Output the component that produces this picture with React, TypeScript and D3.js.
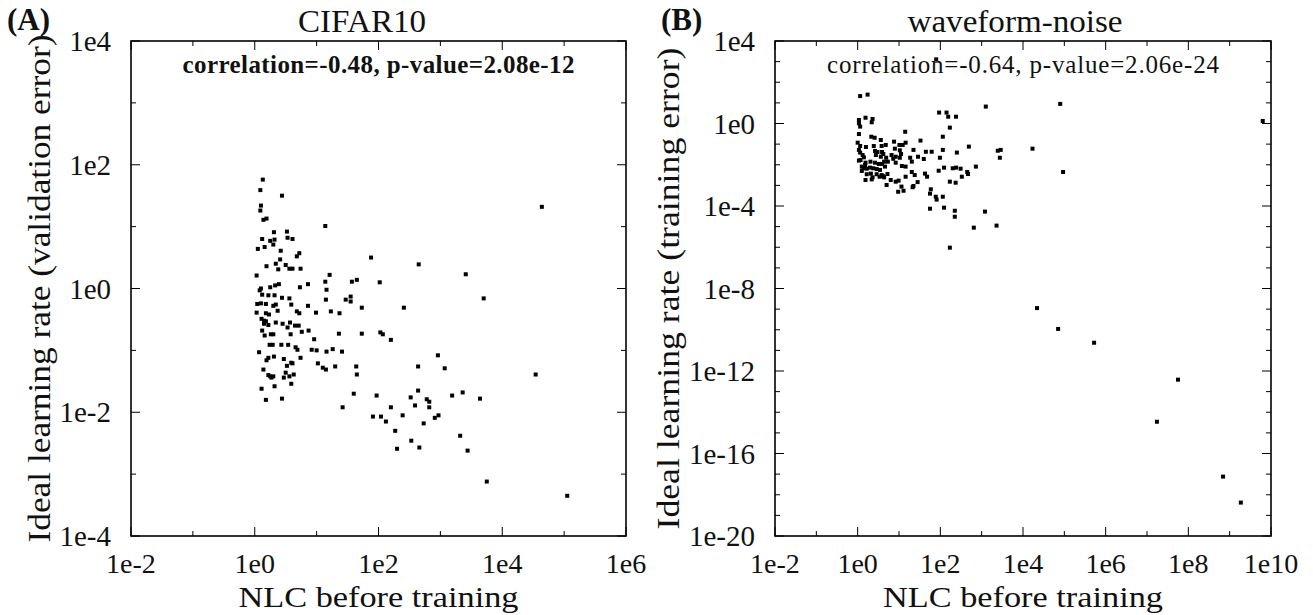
import React from "react";
import * as d3 from "d3";

// ---------- Panel A: CIFAR10 (log10 values) ----------
const cifarLogNLC = [
  0.13, 0.09, 0.44, 0.10, 0.09, 0.14, 0.19, 1.14, 0.31, 0.52,
  0.12, 0.25, 0.32, 0.53, 0.61, 0.05, 0.16, 0.30, 0.42, 0.72,
  0.68, 0.41, 0.34, 0.19, 0.50, 0.56, 0.61, 0.74, 0.38, 0.03,
  1.21, 1.14, 0.08, 0.25, 0.33, 0.39, 0.73, 0.86, 0.10, 1.16,
  0.12, 0.22, 0.32, 0.44, 0.56, 1.47, 1.15, 0.04, 0.10, 0.18,
  0.30, 0.34, 0.59, 0.86, 0.03, 0.18, 0.23, 0.37, 0.68, 0.72,
  0.99, 1.23, 1.37, 0.11, 0.15, 0.18, 0.15, 0.22, 0.34, 0.45,
  0.53, 0.57, 0.65, 0.71, 0.76, 0.87, 1.36, 0.12, 0.16, 0.26,
  0.30, 0.58, 0.96, 0.24, 0.29, 0.43, 0.54, 0.66, 0.69, 0.92,
  1.00, 1.16, 1.26, 1.41, 0.07, 0.22, 0.19, 0.31, 0.47, 0.74,
  0.59, 0.61, 0.52, 1.02, 1.10, 1.15, 1.30, 0.14, 0.22, 0.25,
  0.27, 0.30, 0.50, 0.47, 0.56, 0.63, 0.11, 0.32, 0.59, 0.18,
  0.44, 1.42,
  4.64, 1.88, 2.65, 3.41, 1.65, 1.57, 2.02, 1.55, 1.55, 3.70,
  1.73, 2.41, 1.73, 2.03, 2.07, 2.20, 2.96, 1.64, 2.64, 3.07,
  4.54, 1.65,
  1.60, 1.97, 2.64, 2.52, 2.78, 2.82, 3.19, 3.36, 3.64, 2.20,
  2.59, 2.82, 1.91, 2.04, 2.12, 2.39, 2.91, 2.97, 2.73, 2.27,
  2.53, 3.32, 2.30, 2.66, 3.44, 3.75, 5.05,
];
const cifarLogLR = [
  1.76, 1.59, 1.50, 1.34, 1.26, 1.11, 1.13, 1.01, 0.91, 0.92,
  0.80, 0.77, 0.79, 0.82, 0.80, 0.64, 0.67, 0.71, 0.61, 0.57,
  0.52, 0.47, 0.40, 0.36, 0.38, 0.32, 0.32, 0.32, 0.31, 0.21,
  0.22, 0.11, -0.03, 0.02, 0.05, 0.07, 0.02, 0.07, 0.00, -0.02,
  -0.10, -0.11, -0.11, -0.15, -0.16, -0.18, -0.18, -0.25, -0.24, -0.25,
  -0.28, -0.26, -0.26, -0.28, -0.39, -0.40, -0.42, -0.36, -0.37, -0.40,
  -0.39, -0.37, -0.40, -0.49, -0.52, -0.53, -0.57, -0.59, -0.55, -0.57,
  -0.63, -0.55, -0.60, -0.60, -0.70, -0.68, -0.73, -0.68, -0.76, -0.74,
  -0.74, -0.74, -0.82, -0.91, -0.91, -0.91, -0.91, -0.95, -0.99, -0.99,
  -1.00, -1.02, -0.98, -1.02, -1.03, -1.12, -1.16, -1.10, -1.14, -1.12,
  -1.20, -1.21, -1.25, -1.21, -1.28, -1.31, -1.26, -1.31, -1.40, -1.42,
  -1.44, -1.42, -1.36, -1.44, -1.42, -1.39, -1.62, -1.58, -1.54, -1.80,
  -1.78, -1.92,
  1.32, 0.50, 0.39, 0.23, 0.14, 0.11, 0.10, -0.13, -0.21, -0.16,
  -0.31, -0.31, -0.73, -0.71, -0.74, -0.83, -1.08, -1.26, -1.26, -1.29,
  -1.39, -1.39,
  -1.70, -1.73, -1.65, -1.76, -1.79, -1.83, -1.73, -1.68, -1.78, -1.92,
  -1.89, -1.92, -2.07, -2.07, -2.15, -2.05, -2.09, -2.05, -2.18, -2.30,
  -2.46, -2.38, -2.59, -2.57, -2.62, -3.12, -3.35,
];

// ---------- Panel B: waveform-noise ----------
const waveLogNLC = [
  0.06, 0.24, 0.19, 0.36, 0.03, 0.34, 0.03, 0.06, 1.97, 2.15,
  2.19, 2.38, 3.10, 2.23, 1.15, 2.06, 0.33, 0.41, 0.03, 0.56,
  0.00, 0.88, 1.01, 1.09, 1.16, 1.52, 0.68, 0.58, 0.20, 0.06,
  0.39, 2.69, 3.39, 3.46, 4.23, 3.44, 2.06, 1.79, 1.65, 2.40,
  1.35, 0.90, 1.02, 0.03, 0.06, 0.12, 0.15, 0.42, 0.48, 0.59,
  0.62, 0.44, 0.56, 0.69, 0.82, 0.92, 1.05, 0.86, 1.02, 1.27,
  1.46, 1.60, 1.99, 1.31, 1.16, 1.07, 0.73, 0.64, 0.59, 0.51,
  0.42, 0.31, 0.19, 0.07, 0.03, 0.10, 0.14, 0.22, 0.30, 0.38,
  0.46, 0.54, 0.66, 0.92, 0.18, 0.10, 0.22, 0.32, 0.46, 0.58,
  0.72, 0.61, 0.53, 0.36, 0.19, 0.34, 0.64, 0.80, 0.92, 0.99,
  0.70, 1.16, 1.38, 1.63, 1.68, 1.31, 1.96, 2.09, 2.30, 2.38,
  2.49, 2.65, 2.67, 2.52, 2.86, 2.23, 2.37, 1.45, 1.35, 1.33,
  1.06, 0.98, 1.11, 1.77, 1.75, 1.89, 1.91, 2.06, 1.75, 2.09,
  2.35, 2.35, 3.08, 2.81, 3.36, 2.23,
  4.90, 4.97, 9.80, 1.90, 4.34, 4.85, 5.72, 7.75, 7.24, 8.84, 9.27,
];
const waveLogLR = [
  1.33, 1.40, 0.28, 0.22, 0.17, 0.06, 0.01, -0.15, 0.53, 0.53,
  0.33, 0.33, 0.82, -0.20, -0.40, -0.64, -0.64, -0.69, -0.51, -0.80,
  -0.93, -0.88, -1.04, -1.04, -0.93, -0.83, -1.04, -1.09, -1.14, -1.09,
  -1.09, -1.12, -1.32, -1.28, -1.22, -1.66, -1.28, -1.37, -1.37, -1.41,
  -1.28, -1.22, -1.30, -1.28, -1.41, -1.53, -1.64, -1.33, -1.38, -1.38,
  -1.48, -1.53, -1.61, -1.66, -1.53, -1.61, -1.48, -1.71, -1.66, -1.66,
  -1.61, -1.72, -1.66, -1.85, -2.09, -2.06, -1.85, -1.85, -1.96, -1.96,
  -1.90, -1.85, -1.90, -1.77, -1.80, -2.09, -2.17, -2.19, -2.14, -2.17,
  -2.21, -2.25, -2.09, -1.90, -2.01, -2.30, -2.46, -2.43, -2.46, -2.50,
  -2.45, -2.55, -2.58, -2.61, -2.74, -2.71, -2.61, -2.74, -2.82, -2.77,
  -2.98, -2.58, -2.50, -2.43, -2.58, -2.35, -2.29, -2.14, -2.17, -2.14,
  -2.19, -2.35, -2.45, -2.58, -2.09, -2.82, -2.87, -2.84, -3.03, -3.09,
  -3.06, -3.31, -3.26, -3.19, -3.40, -3.55, -3.69, -3.55, -4.13, -4.08,
  -4.23, -4.52, -4.27, -5.05, -4.95, -6.02,
  0.95, -2.35, 0.12, 3.11, -8.95, -9.96, -10.63, -12.42, -14.46, -17.12, -18.38,
];

// ---------- Tick labels ----------
const cifarXTicks = ["1e-2", "1e0", "1e2", "1e4", "1e6"];
const cifarYTicks = ["1e4", "1e2", "1e0", "1e-2", "1e-4"];
const waveXTicks = ["1e-2", "1e0", "1e2", "1e4", "1e6", "1e8", "1e10"];
const waveYTicks = ["1e4", "1e0", "1e-4", "1e-8", "1e-12", "1e-16", "1e-20"];

const FONT = '"Liberation Serif", "Times New Roman", "DejaVu Serif", serif';
const INK = "#111";

type Box = { l: number; r: number; t: number; b: number };

function decades(dom: number[]) {
  const a = Math.round(Math.log10(dom[0]));
  const b = Math.round(Math.log10(dom[1]));
  return d3.range(a, b + 1);
}

function Panel(props: {
  box: Box;
  xDom: number[];
  yDom: number[];
  xTicks: string[];
  yTicks: string[];
  nlc: number[];
  lr: number[];
  title: string;
  titleX: number;
  titleLen: number;
  corr: string;
  corrLen: number;
  corrWeight: string;
  ylabel: string;
  ylabelX: number;
  ylabelLen: number;
  letter: string;
  letterX: number;
}) {
  const { box } = props;
  const x = d3.scaleLog().domain(props.xDom).range([box.l, box.r]);
  const y = d3.scaleLog().domain(props.yDom).range([box.b, box.t]);
  const xMajor = new Set(props.xTicks.map((s) => Math.round(Math.log10(Number(s)))));
  const yMajor = new Set(props.yTicks.map((s) => Math.round(Math.log10(Number(s)))));
  const xDec = decades(props.xDom);
  const yDec = decades(props.yDom);
  const majorLen = 9;
  const minorLen = 5;
  const cx = (box.l + box.r) / 2;
  const cy = (box.t + box.b) / 2;

  return (
    <g>
      {xDec.map((e) => {
        const px = x(Math.pow(10, e));
        const len = xMajor.has(e) ? majorLen : minorLen;
        return (
          <g key={"xt" + e} stroke="#000" strokeWidth={1}>
            <line x1={px} x2={px} y1={box.b} y2={box.b - len} />
            <line x1={px} x2={px} y1={box.t} y2={box.t + len} />
          </g>
        );
      })}
      {yDec.map((e) => {
        const py = y(Math.pow(10, e));
        const len = yMajor.has(e) ? majorLen : minorLen;
        return (
          <g key={"yt" + e} stroke="#000" strokeWidth={1}>
            <line x1={box.l} x2={box.l + len} y1={py} y2={py} />
            <line x1={box.r} x2={box.r - len} y1={py} y2={py} />
          </g>
        );
      })}
      <rect
        x={box.l}
        y={box.t}
        width={box.r - box.l}
        height={box.b - box.t}
        fill="none"
        stroke="#000"
        strokeWidth={1.6}
      />
      {props.xTicks.map((s) => (
        <text
          key={"xl" + s}
          x={x(Number(s))}
          y={box.b + 37}
          textAnchor="middle"
          style={{ fontFamily: FONT, fontSize: "28px" }}
          fill={INK}
        >
          {s}
        </text>
      ))}
      {props.yTicks.map((s) => (
        <text
          key={"yl" + s}
          x={box.l - 20}
          y={y(Number(s)) + 10}
          textAnchor="end"
          style={{ fontFamily: FONT, fontSize: "29px" }}
          fill={INK}
        >
          {s}
        </text>
      ))}
      {props.nlc.map((v, i) => (
        <rect
          key={"p" + i}
          x={x(Math.pow(10, v)) - 2}
          y={y(Math.pow(10, props.lr[i])) - 2}
          width={4}
          height={4}
          fill="#000"
        />
      ))}
      <text
        x={props.titleX}
        y={32}
        textAnchor="middle"
        style={{ fontFamily: FONT, fontSize: "32px" }}
        textLength={props.titleLen}
        lengthAdjust="spacingAndGlyphs"
        fill={INK}
      >
        {props.title}
      </text>
      <text
        x={cx}
        y={73}
        textAnchor="middle"
        style={{ fontFamily: FONT, fontSize: "25px", fontWeight: props.corrWeight as any }}
        textLength={props.corrLen}
        lengthAdjust="spacing"
        fill={INK}
      >
        {props.corr}
      </text>
      <text
        x={cx}
        y={607}
        textAnchor="middle"
        style={{ fontFamily: FONT, fontSize: "29px" }}
        textLength={280}
        lengthAdjust="spacingAndGlyphs"
        fill={INK}
      >
        NLC before training
      </text>
      <text
        transform={`translate(${props.ylabelX},${cy}) rotate(-90)`}
        textAnchor="middle"
        style={{ fontFamily: FONT, fontSize: "31px" }}
        textLength={props.ylabelLen}
        lengthAdjust="spacingAndGlyphs"
        fill={INK}
      >
        {props.ylabel}
      </text>
      <text
        x={props.letterX}
        y={30}
        style={{ fontFamily: FONT, fontSize: "31px", fontWeight: "bold" }}
        fill={INK}
      >
        {props.letter}
      </text>
    </g>
  );
}

export default function App() {
  return (
    <div style={{ position: "fixed", left: 0, top: 0 }}>
      <svg
        width={1313}
        height={615}
        style={{ display: "block", background: "#fff", fontFamily: FONT }}
      >
        <rect x={0} y={0} width={1313} height={615} fill="#fff" />
        <Panel
          box={{ l: 131, r: 626, t: 41, b: 536 }}
          xDom={[1e-2, 1e6]}
          yDom={[1e-4, 1e4]}
          xTicks={cifarXTicks}
          yTicks={cifarYTicks}
          nlc={cifarLogNLC}
          lr={cifarLogLR}
          title="CIFAR10"
          titleX={362}
          titleLen={128}
          corr="correlation=-0.48, p-value=2.08e-12"
          corrLen={392}
          corrWeight="600"
          ylabel="Ideal learning rate (validation error)"
          ylabelX={50}
          ylabelLen={508}
          letter="(A)"
          letterX={7}
        />
        <Panel
          box={{ l: 775, r: 1271, t: 41, b: 536 }}
          xDom={[1e-2, 1e10]}
          yDom={[1e-20, 1e4]}
          xTicks={waveXTicks}
          yTicks={waveYTicks}
          nlc={waveLogNLC}
          lr={waveLogLR}
          title="waveform-noise"
          titleX={1015}
          titleLen={215}
          corr="correlation=-0.64, p-value=2.06e-24"
          corrLen={392}
          corrWeight="normal"
          ylabel="Ideal learning rate (training error)"
          ylabelX={679}
          ylabelLen={482}
          letter="(B)"
          letterX={661}
        />
      </svg>
    </div>
  );
}
